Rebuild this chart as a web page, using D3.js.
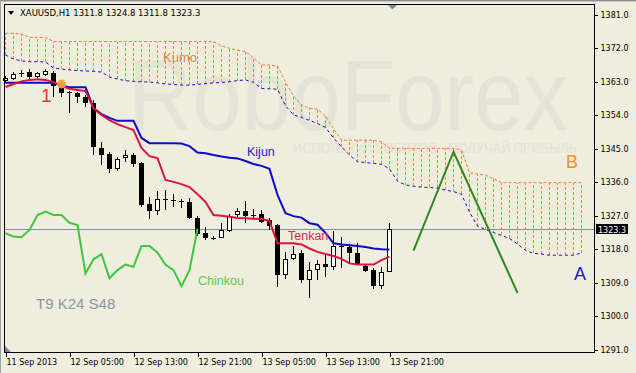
<!DOCTYPE html>
<html lang="en">
<head>
<meta charset="UTF-8">
<title>XAUUSD H1 Ichimoku</title>
<script src="https://d3js.org/d3.v7.min.js"></script>
<style>
  body { margin: 0; background: #EEEDDE; }
  svg { display: block; }
  .axis text { font-family: "DejaVu Sans", sans-serif; font-size: 8px; fill: #000; }
  .axis line { stroke: #000; shape-rendering: crispEdges; }
  .axis path { display: none; }
</style>
</head>
<body>
<div id="chart"></div>
<script>
// hourly bars, first bar 11 Sep 2013 21:00
const firstBar = "2013-09-11 21:00";
const openP  = [1363.0,1363.5,1365.0,1365.4,1364.1,1364.6,1365.2,1361.5,1360.0,1359.9,1358.8,1357.1,1345.0,1343.3,1339.3,1342.2,1343.1,1340.9,1329.9,1328.2,1331.2,1331.0,1330.8,1330.5,1326.1,1322.1,1320.8,1320.9,1322.7,1326.9,1328.0,1327.0,1327.4,1325.6,1324.3,1310.8,1315.1,1316.7,1309.5,1312.2,1313.8,1312.9,1318.5,1318.5,1316.7,1313.3,1312.2,1307.9,1311.8];
const highP  = [1364.3,1365.4,1366.0,1366.2,1365.4,1366.2,1365.7,1362.7,1360.2,1360.0,1359.2,1357.9,1346.7,1344.0,1342.7,1344.5,1343.7,1341.3,1331.8,1333.5,1333.7,1332.6,1331.3,1331.6,1326.8,1323.7,1321.3,1324.8,1327.2,1328.8,1330.8,1328.6,1328.3,1326.1,1324.5,1317.1,1318.7,1317.6,1314.4,1314.9,1316.2,1322.8,1321.2,1319.2,1319.4,1313.8,1312.7,1313.1,1324.8];
const lowP   = [1362.5,1363.3,1364.1,1363.5,1363.8,1364.3,1358.7,1358.7,1354.4,1357.2,1356.1,1343.1,1340.4,1338.2,1338.9,1341.3,1340.0,1329.1,1325.8,1327.0,1328.3,1329.2,1328.8,1325.8,1321.4,1320.3,1320.3,1320.7,1322.5,1326.5,1324.8,1325.6,1324.8,1323.0,1307.7,1309.8,1314.8,1308.6,1304.6,1309.5,1310.4,1312.1,1312.7,1314.0,1313.6,1311.7,1307.0,1307.0,1311.8];
const closeP = [1363.8,1364.9,1365.2,1364.1,1365.2,1365.7,1361.6,1359.9,1359.8,1358.6,1357.2,1345.3,1343.1,1339.3,1342.0,1343.1,1340.6,1329.7,1328.1,1331.3,1331.3,1330.9,1330.7,1326.1,1322.0,1320.9,1320.7,1323.0,1326.8,1328.1,1326.6,1326.9,1325.1,1324.0,1311.0,1315.1,1316.5,1309.5,1312.2,1313.9,1312.9,1318.6,1318.8,1316.7,1313.8,1312.0,1307.9,1311.7,1323.3];

const tenkan = [1361.4,1362.2,1362.9,1363.3,1363.5,1363.3,1362.7,1361.7,1360.9,1360.6,1360.3,1355.7,1353.9,1352.5,1351.4,1350.6,1349.8,1345.0,1342.8,1342.3,1336.4,1335.9,1335.3,1334.5,1332.6,1330.5,1327.0,1326.8,1326.5,1326.2,1326.1,1326.0,1325.9,1325.4,1319.4,1319.4,1319.4,1319.1,1318.0,1317.1,1316.5,1316.0,1315.2,1314.0,1313.7,1313.7,1313.7,1314.9,1315.8];
const kijun  = [1362.5,1362.5,1362.5,1362.5,1362.5,1362.5,1362.5,1361.7,1361.3,1361.3,1361.3,1355.7,1354.1,1353.1,1352.3,1352.3,1352.3,1347.7,1346.3,1346.3,1346.3,1346.3,1346.2,1345.5,1343.8,1343.6,1343.1,1342.7,1342.4,1342.2,1341.5,1340.7,1340.2,1339.4,1332.4,1327.5,1326.7,1326.3,1324.8,1324.4,1322.2,1319.4,1319.1,1318.9,1318.7,1318.4,1318.0,1317.8,1317.7];
const chinkou = [1322.1,1321.2,1321.0,1323.0,1327.0,1327.9,1327.0,1327.0,1324.9,1324.3,1311.3,1315.1,1316.5,1310.0,1312.2,1313.7,1313.1,1318.7,1318.7,1316.9,1313.6,1312.2,1307.9,1312.2,1323.3];
const senkouA = [1370.0,1368.9,1368.4,1368.2,1368.2,1368.1,1366.5,1366.2,1366.0,1365.8,1365.7,1365.6,1365.4,1364.1,1363.5,1363.1,1362.9,1362.8,1362.7,1362.5,1362.2,1362.1,1361.9,1361.9,1362.1,1362.3,1362.5,1362.6,1362.8,1363.1,1363.3,1362.6,1361.0,1360.9,1360.8,1356.3,1353.9,1353.2,1352.4,1351.6,1350.5,1347.7,1345.3,1343.1,1341.3,1341.1,1340.9,1340.6,1339.4,1336.1,1335.1,1334.7,1334.5,1334.4,1334.2,1333.7,1333.3,1332.6,1327.8,1324.0,1323.1,1322.3,1321.5,1320.7,1319.2,1317.5,1316.7,1316.5,1316.2,1316.2,1316.2,1316.2,1316.8];
const senkouB = [1375.8,1375.8,1375.6,1374.7,1374.7,1374.7,1373.6,1373.6,1373.6,1373.6,1373.6,1373.6,1373.6,1373.6,1373.6,1373.6,1373.6,1373.6,1373.6,1373.6,1373.6,1373.6,1373.6,1373.6,1373.6,1373.6,1373.6,1372.4,1371.8,1371.3,1370.9,1369.2,1367.3,1367.3,1367.0,1362.7,1359.0,1356.6,1355.7,1355.4,1353.6,1350.2,1347.1,1347.1,1347.1,1347.1,1347.1,1346.6,1345.0,1344.9,1344.9,1344.9,1344.9,1344.9,1344.9,1344.9,1344.9,1344.5,1338.3,1338.0,1337.7,1336.7,1335.7,1335.7,1335.7,1335.7,1335.7,1335.7,1335.7,1335.7,1335.7,1335.7,1335.7];

const yTicks = [1291,1300,1309,1318,1327,1336,1345,1354,1363,1372,1381];
const xTickTimes  = ["2013-09-11 21:00","2013-09-12 05:00","2013-09-12 13:00","2013-09-12 21:00","2013-09-13 05:00","2013-09-13 13:00","2013-09-13 21:00"];
const xTickLabels = ["11 Sep 2013","12 Sep 05:00","12 Sep 13:00","12 Sep 21:00","13 Sep 05:00","13 Sep 13:00","13 Sep 21:00"];

// hand drawn wave (bar offset, price) and the marked point
const waveBars   = [51, 56, 64];
const wavePrices = [1317.4, 1344.0, 1306.1];
const markBar = 7, markPrice = 1362.2;
const lastPrice = 1323.3;

const width = 636, height = 373;
const parse = d3.timeParse("%Y-%m-%d %H:%M");
const t0 = parse(firstBar);
const barTime = i => d3.timeHour.offset(t0, i);

const x = d3.scaleTime()
    .domain([t0, barTime(72)])
    .range([5.5, 581.5]);
const y = d3.scaleLinear()
    .domain([1291, 1381])
    .range([349, 14]);

const svg = d3.select("#chart").append("svg")
    .attr("width", width)
    .attr("height", height);

svg.append("rect").attr("width", width).attr("height", height).attr("fill", "#EEEDDE");
// window edges
svg.append("line").attr("x1", 0).attr("x2", width).attr("y1", 0.5).attr("y2", 0.5).attr("stroke", "#8A8A8A");
svg.append("line").attr("x1", 0).attr("x2", width).attr("y1", 1.5).attr("y2", 1.5).attr("stroke", "#C8C8C0");
svg.append("line").attr("x1", 0.5).attr("x2", 0.5).attr("y1", 0).attr("y2", height).attr("stroke", "#A0A0A0");

// watermark
svg.append("text")
    .attr("x", 128).attr("y", 130)
    .attr("textLength", 440).attr("lengthAdjust", "spacingAndGlyphs")
    .style("font-family", "Liberation Sans, Arial, sans-serif")
    .style("font-size", "100px")
    .attr("fill", "#E3E4D7")
    .text("RoboForex");
svg.append("text")
    .attr("x", 293).attr("y", 153)
    .attr("textLength", 284).attr("lengthAdjust", "spacingAndGlyphs")
    .style("font-family", "Liberation Sans, Arial, sans-serif")
    .style("font-size", "15px")
    .attr("fill", "#E2E3D6")
    .text("ИСПОЛЬЗУЙ РОБОТОВ - ПОЛУЧАЙ ПРИБЫЛЬ");

const plot = svg.append("g");

// kumo hatch
plot.selectAll(".hatch")
    .data(senkouA)
    .enter()
    .append("line")
    .attr("class", "hatch")
    .attr("x1", (d, i) => x(barTime(i)))
    .attr("x2", (d, i) => x(barTime(i)))
    .attr("y1", d => Math.round(y(d)))
    .attr("y2", (d, i) => Math.round(y(senkouB[i])))
    .attr("stroke", "#F2864A")
    .attr("stroke-width", 1)
    .attr("stroke-dasharray", "3,2")
    .style("shape-rendering", "crispEdges");

const line = d3.line()
    .x((d, i) => x(barTime(i)))
    .y(d => y(d));

plot.append("path").datum(senkouB)
    .attr("d", line).attr("fill", "none")
    .attr("stroke", "#F07A3C").attr("stroke-dasharray", "3,2");
plot.append("path").datum(senkouA)
    .attr("d", line).attr("fill", "none")
    .attr("stroke", "#1010C8").attr("stroke-dasharray", "3,3");

// current price line
plot.append("line")
    .attr("x1", 4).attr("x2", 594)
    .attr("y1", Math.round(y(lastPrice)) + 0.5).attr("y2", Math.round(y(lastPrice)) + 0.5)
    .attr("stroke", "#7E8FA3");

// candles
const candles = plot.selectAll(".candle")
    .data(openP.map((o, i) => ({ i, o, h: highP[i], l: lowP[i], c: closeP[i] })))
    .enter()
    .append("g")
    .attr("class", "candle");

candles.append("line")
    .attr("x1", d => x(barTime(d.i)))
    .attr("x2", d => x(barTime(d.i)))
    .attr("y1", d => y(d.h))
    .attr("y2", d => y(d.l))
    .attr("stroke", "#000")
    .style("shape-rendering", "crispEdges");

candles.each(function(d) {
    const g = d3.select(this);
    const cx = x(barTime(d.i));
    const top = Math.round(y(Math.max(d.o, d.c)));
    const bot = Math.round(y(Math.min(d.o, d.c)));
    if (bot - top < 2) {
        g.append("line")
            .attr("x1", cx - 2.5).attr("x2", cx + 2.5)
            .attr("y1", top + 0.5).attr("y2", top + 0.5)
            .attr("stroke", "#000");
    } else if (d.c < d.o) {
        g.append("rect")
            .attr("x", cx - 2.5).attr("width", 5)
            .attr("y", top).attr("height", bot - top)
            .attr("fill", "#000");
    } else {
        g.append("rect")
            .attr("x", cx - 2).attr("width", 4)
            .attr("y", top + 0.5).attr("height", bot - top - 1)
            .attr("fill", "#fff").attr("stroke", "#000");
    }
});

// ichimoku lines
plot.append("path").datum(chinkou)
    .attr("d", line).attr("fill", "none")
    .attr("stroke", "#3FC73A").attr("stroke-width", 2);
plot.append("path").datum(kijun)
    .attr("d", line).attr("fill", "none")
    .attr("stroke", "#0C0CC8").attr("stroke-width", 2);
plot.append("path").datum(tenkan)
    .attr("d", line).attr("fill", "none")
    .attr("stroke", "#DC143C").attr("stroke-width", 2);

// marker
plot.append("circle")
    .attr("cx", x(barTime(markBar))).attr("cy", y(markPrice))
    .attr("r", 4.5)
    .attr("fill", "#F4A23C").attr("fill-opacity", 0.9);

// wave
plot.append("path")
    .datum(waveBars.map((b, i) => [b, wavePrices[i]]))
    .attr("d", d3.line().x(d => x(barTime(d[0]))).y(d => y(d[1])))
    .attr("fill", "none")
    .attr("stroke", "#2A8A1E")
    .attr("stroke-width", 2);

// labels
const labels = [
    { t: "Kumo", x: 163, y: 62, s: 13, c: "#D68A42" },
    { t: "Kijun", x: 247, y: 156, s: 12.5, c: "#2424B4" },
    { t: "Tenkan", x: 288, y: 240, s: 12.5, c: "#E0284A" },
    { t: "Chinkou", x: 198, y: 285, s: 12.5, c: "#5BCB4A" },
    { t: "T9 K24 S48", x: 36, y: 309, s: 15, c: "#8C97A3" },
    { t: "1", x: 41, y: 102, s: 19, c: "#E8323C" },
    { t: "B", x: 566, y: 168, s: 18, c: "#FF8C1A" },
    { t: "A", x: 574, y: 280, s: 18, c: "#1A1ACD" }
];
svg.selectAll(".lbl")
    .data(labels)
    .enter()
    .append("text")
    .attr("class", "lbl")
    .attr("x", d => d.x).attr("y", d => d.y)
    .style("font-family", "Liberation Sans, Arial, sans-serif")
    .style("font-size", d => d.s + "px")
    .attr("fill", d => d.c)
    .text(d => d.t);

// frame
svg.append("rect")
    .attr("x", 4.5).attr("y", 4.5)
    .attr("width", 590).attr("height", 348)
    .attr("fill", "none").attr("stroke", "#000");

// axes
const yAxis = svg.append("g")
    .attr("class", "axis")
    .attr("transform", "translate(594.5,0.5)")
    .call(d3.axisRight(y).tickValues(yTicks).tickFormat(d3.format(".1f")).tickSize(3).tickPadding(3));
yAxis.selectAll("text").attr("dy", "0.35em");

const xAxis = svg.append("g")
    .attr("class", "axis")
    .attr("transform", "translate(0.5,352.5)")
    .call(d3.axisBottom(x).tickValues(xTickTimes.map(parse)).tickFormat((d, i) => xTickLabels[i]).tickSize(4).tickPadding(3));
xAxis.selectAll("text").attr("text-anchor", "start").attr("x", 0).attr("y", 7).attr("dy", "0.71em");

// last price tag
const py = Math.round(y(lastPrice));
svg.append("rect").attr("x", 596).attr("y", py - 5).attr("width", 32).attr("height", 10).attr("fill", "#000");
svg.append("text")
    .attr("x", 598).attr("y", py + 3.5)
    .style("font-family", "DejaVu Sans, sans-serif").style("font-size", "8px")
    .attr("fill", "#fff").text(lastPrice.toFixed(1));

// title
svg.append("path").attr("d", "M8,11 L14,11 L11,15 Z").attr("fill", "#000");
svg.append("text")
    .attr("x", 20).attr("y", 16)
    .style("font-family", "DejaVu Sans, sans-serif").style("font-size", "8.5px")
    .attr("fill", "#000")
    .text("XAUUSD,H1  1311.8 1324.8 1311.8 1323.3");

// shift marker and corner marker
svg.append("path").attr("d", "M388,5 L397,5 L392.5,9.5 Z").attr("fill", "#7A8896");
svg.append("path").attr("d", "M5,346 L5,352 L11,352 Z").attr("fill", "#7A8896");
</script>
</body>
</html>
